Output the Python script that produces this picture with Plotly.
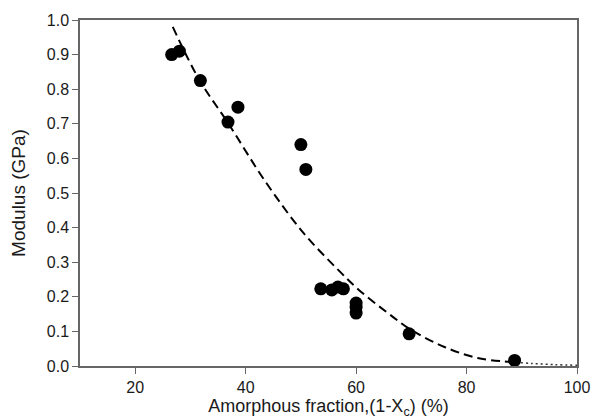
import plotly.graph_objects as go

# Measured data
amorphous_pct = [26.6, 28.0, 31.8, 36.8, 38.6, 50.0, 50.9, 53.6, 55.6, 56.7, 57.7, 60.0, 60.0, 60.0, 69.6, 88.7]
modulus_gpa = [0.900, 0.910, 0.825, 0.705, 0.748, 0.640, 0.568, 0.223, 0.220, 0.228, 0.223, 0.182, 0.170, 0.153, 0.093, 0.016]

# Fitted curve (dashed)
fit_x = [26.8, 31.6, 36.7, 43.7, 50.5, 56.8, 60.5, 65.5, 70.0, 76.0, 82.0, 88.0]
fit_y = [0.980, 0.827, 0.705, 0.530, 0.384, 0.277, 0.220, 0.156, 0.104, 0.055, 0.023, 0.012]

# Extrapolation (dotted)
ext_x = [88.0, 92.0, 96.0, 100.0]
ext_y = [0.012, 0.007, 0.004, 0.002]

x_ticks = [20, 40, 60, 80, 100]

fig = go.Figure()
fig.add_trace(go.Scatter(x=fit_x, y=fit_y, mode="lines",
                         line=dict(color="black", width=2, dash="9px,5px", shape="spline"),
                         showlegend=False, hoverinfo="skip"))
fig.add_trace(go.Scatter(x=ext_x, y=ext_y, mode="lines",
                         line=dict(color="#333", width=1.5, dash="2px,3px", shape="spline"),
                         showlegend=False, hoverinfo="skip"))
fig.add_trace(go.Scatter(x=amorphous_pct, y=modulus_gpa, mode="markers",
                         marker=dict(color="black", size=13, symbol="circle"),
                         showlegend=False))

FONT = "Liberation Sans, Arial, sans-serif"
tick_font = dict(family=FONT, size=16, color="#1a1a1a")
fig.update_layout(
    width=592, height=420,
    margin=dict(l=80, r=15, t=20, b=54),
    paper_bgcolor="white", plot_bgcolor="white",
    font=dict(family=FONT, color="#1a1a1a"),
    xaxis=dict(range=[10, 100], tickvals=x_ticks, showgrid=False, zeroline=False,
               showline=True, linecolor="#666", linewidth=1.5, mirror=True,
               ticks="outside", ticklen=6, tickcolor="#666", tickfont=tick_font,
               automargin=False,
               title=dict(text="Amorphous fraction,(1-X<sub>c</sub>) (%)",
                          font=dict(family=FONT, size=18, color="#1a1a1a"), standoff=0)),
    yaxis=dict(range=[0, 1], dtick=0.1, tickformat=".1f", showgrid=False, zeroline=False,
               showline=True, linecolor="#666", linewidth=1.5, mirror=True,
               ticks="outside", ticklen=6, tickcolor="#666", tickfont=tick_font,
               automargin=False,
               title=dict(text="Modulus (GPa)", font=dict(family=FONT, size=19, color="#1a1a1a"),
                          standoff=16)),
)

fig.write_html("out.html", config={"displayModeBar": False},
               post_script="document.body.style.margin='0';")
